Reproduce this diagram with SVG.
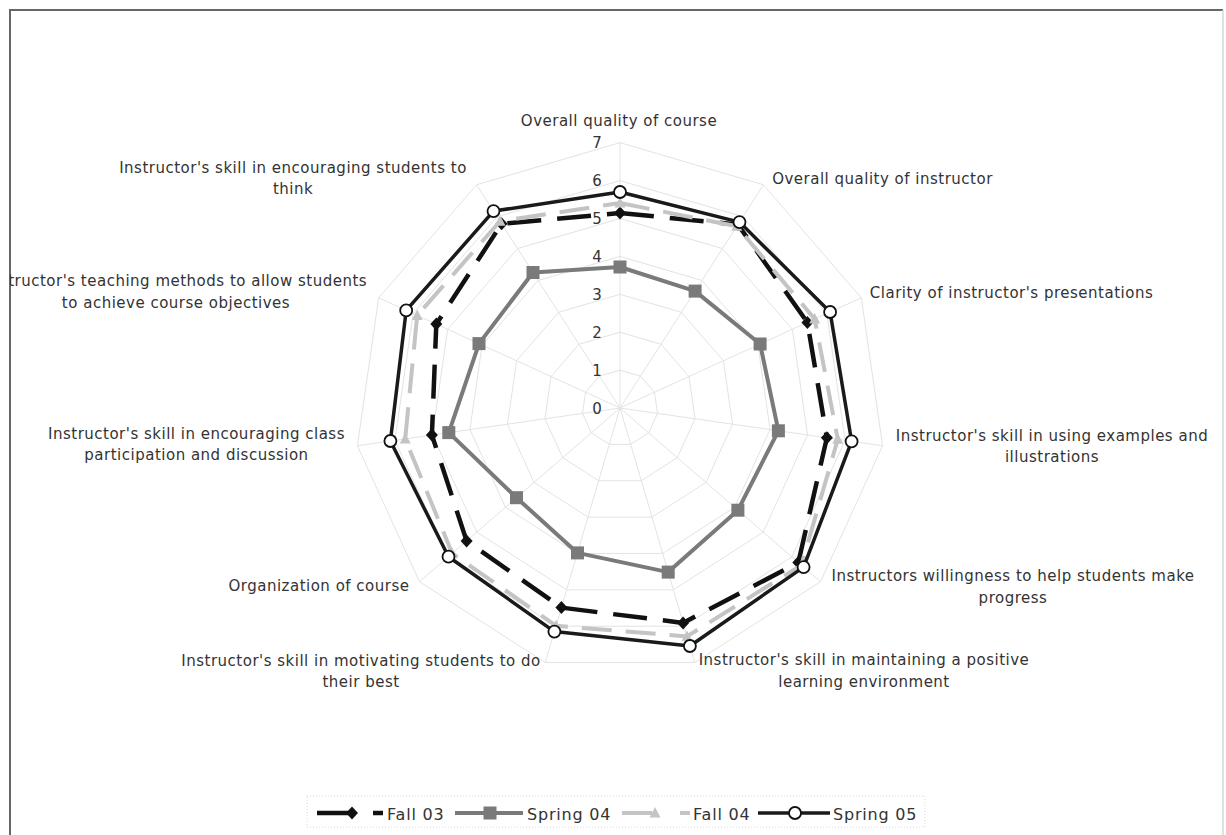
<svg xmlns="http://www.w3.org/2000/svg" xmlns:xlink="http://www.w3.org/1999/xlink" width="1226" height="835" viewBox="0 0 1226 835">
<style>
.lbl{font-family:"DejaVu Sans","Liberation Sans",sans-serif;font-size:15px;letter-spacing:0.5px;fill:#333;text-anchor:middle}
.num{font-family:"DejaVu Sans","Liberation Sans",sans-serif;font-size:15px;fill:#333;text-anchor:middle}
.leg{font-family:"DejaVu Sans","Liberation Sans",sans-serif;font-size:16px;letter-spacing:0.8px;fill:#333}
.grid{fill:none;stroke:#e3e3e3;stroke-width:1;vector-effect:non-scaling-stroke}
.s1{fill:none;stroke:#111;stroke-width:4.5;stroke-dasharray:34 16;stroke-linejoin:round}
.s2{fill:none;stroke:#7a7a7a;stroke-width:4;stroke-linejoin:round}
.s3{fill:none;stroke:#c4c4c4;stroke-width:4;stroke-dasharray:30 14;stroke-linejoin:round}
.s4{fill:none;stroke:#1a1a1a;stroke-width:3.5;stroke-linejoin:round}
</style>
<defs>
<polygon id="ring" points="0,-1 0.5406,-0.8413 0.9096,-0.4154 0.9898,0.1423 0.7557,0.6549 0.2817,0.9595 -0.2817,0.9595 -0.7557,0.6549 -0.9898,0.1423 -0.9096,-0.4154 -0.5406,-0.8413" class="grid"/>
<path id="spokes" class="grid" d="M0,0L0,-1M0,0L0.5406,-0.8413M0,0L0.9096,-0.4154M0,0L0.9898,0.1423M0,0L0.7557,0.6549M0,0L0.2817,0.9595M0,0L-0.2817,0.9595M0,0L-0.7557,0.6549M0,0L-0.9898,0.1423M0,0L-0.9096,-0.4154M0,0L-0.5406,-0.8413"/>
<path id="mDia" d="M0,-6.5L6,0L0,6.5L-6,0Z" fill="#111"/>
<rect id="mSq" x="-6.5" y="-6.5" width="13" height="13" fill="#7a7a7a"/>
<path id="mTri" d="M0,-6L5.5,4.5L-5.5,4.5Z" fill="#c4c4c4"/>
<circle id="mCir" r="6" fill="#fff" stroke="#111" stroke-width="1.8"/>
<clipPath id="frameClip"><rect x="10" y="10" width="1213" height="825"/></clipPath>
</defs>
<rect width="1226" height="835" fill="#fff"/>
<polyline points="10,835 10,10 1223,10" fill="none" stroke="#666" stroke-width="2"/>
<line x1="1223" y1="10" x2="1223" y2="835" stroke="#d6d6d6" stroke-width="1.5"/>

<g id="grid">
<use xlink:href="#ring" transform="translate(620 408) scale(37.9)"/>
<use xlink:href="#ring" transform="translate(620 408) scale(75.8)"/>
<use xlink:href="#ring" transform="translate(620 408) scale(113.7)"/>
<use xlink:href="#ring" transform="translate(620 408) scale(151.6)"/>
<use xlink:href="#ring" transform="translate(620 408) scale(189.5)"/>
<use xlink:href="#ring" transform="translate(620 408) scale(227.4)"/>
<use xlink:href="#ring" transform="translate(620 408) scale(265.3)"/>
<use xlink:href="#spokes" transform="translate(620 408) scale(265.3)"/>
</g>

<g id="axis-values">
<text class="num" x="597" y="413.5">0</text>
<text class="num" x="597" y="375.6">1</text>
<text class="num" x="597" y="337.7">2</text>
<text class="num" x="597" y="299.8">3</text>
<text class="num" x="597" y="261.9">4</text>
<text class="num" x="597" y="224">5</text>
<text class="num" x="597" y="186.1">6</text>
<text class="num" x="597" y="148.2">7</text>
</g>

<g id="series">
<g id="fall03">
<polygon class="s1" points="620,213 737.9,224.6 807.4,322.4 826.9,437.7 798.3,562.6 683.1,622.9 561.4,607.6 466.6,540.9 431.9,435 436.3,324.1 501.6,223.8"/>
<use xlink:href="#mDia" x="620" y="213"/><use xlink:href="#mDia" x="737.9" y="224.6"/><use xlink:href="#mDia" x="807.4" y="322.4"/><use xlink:href="#mDia" x="826.9" y="437.7"/><use xlink:href="#mDia" x="798.3" y="562.6"/><use xlink:href="#mDia" x="683.1" y="622.9"/><use xlink:href="#mDia" x="561.4" y="607.6"/><use xlink:href="#mDia" x="466.6" y="540.9"/><use xlink:href="#mDia" x="431.9" y="435"/><use xlink:href="#mDia" x="436.3" y="324.1"/><use xlink:href="#mDia" x="501.6" y="223.8"/>
</g>
<g id="spring04">
<polygon class="s2" points="620,267 695.1,291.1 760.1,344 778.4,430.8 737.9,510.2 668.2,572.1 577.5,552.9 516.5,497.7 448.8,432.6 479,343.6 533,272.5"/>
<use xlink:href="#mSq" x="620" y="267"/><use xlink:href="#mSq" x="695.1" y="291.1"/><use xlink:href="#mSq" x="760.1" y="344"/><use xlink:href="#mSq" x="778.4" y="430.8"/><use xlink:href="#mSq" x="737.9" y="510.2"/><use xlink:href="#mSq" x="668.2" y="572.1"/><use xlink:href="#mSq" x="577.5" y="552.9"/><use xlink:href="#mSq" x="516.5" y="497.7"/><use xlink:href="#mSq" x="448.8" y="432.6"/><use xlink:href="#mSq" x="479" y="343.6"/><use xlink:href="#mSq" x="533" y="272.5"/>
</g>
<g id="fall04">
<polygon class="s3" points="620,203 736.8,226.3 814.7,319.1 837.8,439.3 801.4,565.2 687,636.4 556.1,625.8 452.2,553.4 405.2,438.9 417.2,315.4 500,221.2"/>
<use xlink:href="#mTri" x="620" y="203"/><use xlink:href="#mTri" x="736.8" y="226.3"/><use xlink:href="#mTri" x="814.7" y="319.1"/><use xlink:href="#mTri" x="837.8" y="439.3"/><use xlink:href="#mTri" x="801.4" y="565.2"/><use xlink:href="#mTri" x="687" y="636.4"/><use xlink:href="#mTri" x="556.1" y="625.8"/><use xlink:href="#mTri" x="452.2" y="553.4"/><use xlink:href="#mTri" x="405.2" y="438.9"/><use xlink:href="#mTri" x="417.2" y="315.4"/><use xlink:href="#mTri" x="500" y="221.2"/>
</g>
<g id="spring05">
<polygon class="s4" points="620,192 739.5,222.1 830.1,312 851.6,441.3 803.6,567.1 689.9,646 554.4,631.6 448.5,556.7 390.4,441 406.2,310.4 493.5,211.1"/>
<use xlink:href="#mCir" x="620" y="192"/><use xlink:href="#mCir" x="739.5" y="222.1"/><use xlink:href="#mCir" x="830.1" y="312"/><use xlink:href="#mCir" x="851.6" y="441.3"/><use xlink:href="#mCir" x="803.6" y="567.1"/><use xlink:href="#mCir" x="689.9" y="646"/><use xlink:href="#mCir" x="554.4" y="631.6"/><use xlink:href="#mCir" x="448.5" y="556.7"/><use xlink:href="#mCir" x="390.4" y="441"/><use xlink:href="#mCir" x="406.2" y="310.4"/><use xlink:href="#mCir" x="493.5" y="211.1"/>
</g>
</g>

<g id="labels" clip-path="url(#frameClip)">
<g id="lbl0"><text class="lbl" x="619" y="126">Overall quality of course</text></g>
<g id="lbl1"><text class="lbl" x="882.5" y="184">Overall quality of instructor</text></g>
<g id="lbl2"><text class="lbl" x="1011.5" y="298">Clarity of instructor's presentations</text></g>
<g id="lbl3"><text class="lbl" x="1052" y="441">Instructor's skill in using examples and</text><text class="lbl" x="1052" y="462">illustrations</text></g>
<g id="lbl4"><text class="lbl" x="1013" y="581">Instructors willingness to help students make</text><text class="lbl" x="1013" y="603">progress</text></g>
<g id="lbl5"><text class="lbl" x="864" y="665">Instructor's skill in maintaining a positive</text><text class="lbl" x="864" y="687">learning environment</text></g>
<g id="lbl6"><text class="lbl" x="361" y="666">Instructor's skill in motivating students to do</text><text class="lbl" x="361" y="687">their best</text></g>
<g id="lbl7"><text class="lbl" x="319" y="591">Organization of course</text></g>
<g id="lbl8"><text class="lbl" x="196.5" y="439">Instructor's skill in encouraging class</text><text class="lbl" x="196.5" y="460">participation and discussion</text></g>
<g id="lbl9"><text class="lbl" x="176" y="286">Instructor's teaching methods to allow students</text><text class="lbl" x="176" y="308">to achieve course objectives</text></g>
<g id="lbl10"><text class="lbl" x="293" y="173">Instructor's skill in encouraging students to</text><text class="lbl" x="293" y="194">think</text></g>
</g>

<g id="legend">
<rect x="307" y="796" width="618" height="31" fill="none" stroke="#d9d9d9" stroke-width="1" stroke-dasharray="1 2"/>
<line x1="317" y1="813" x2="350" y2="813" stroke="#111" stroke-width="4.5"/>
<use xlink:href="#mDia" x="352" y="813"/>
<line x1="373" y1="813" x2="383" y2="813" stroke="#111" stroke-width="4.5"/>
<text class="leg" x="387" y="819.5">Fall 03</text>
<line x1="455" y1="813" x2="523" y2="813" stroke="#7a7a7a" stroke-width="4"/>
<use xlink:href="#mSq" x="490" y="813"/>
<text class="leg" x="527" y="819.5">Spring 04</text>
<line x1="622" y1="813" x2="652" y2="813" stroke="#c4c4c4" stroke-width="4"/>
<use xlink:href="#mTri" x="655" y="813"/>
<line x1="680" y1="813" x2="690" y2="813" stroke="#c4c4c4" stroke-width="4"/>
<text class="leg" x="693" y="819.5">Fall 04</text>
<line x1="758" y1="813" x2="830" y2="813" stroke="#1a1a1a" stroke-width="3.5"/>
<use xlink:href="#mCir" x="795" y="813"/>
<text class="leg" x="833" y="819.5">Spring 05</text>
</g>
</svg>
